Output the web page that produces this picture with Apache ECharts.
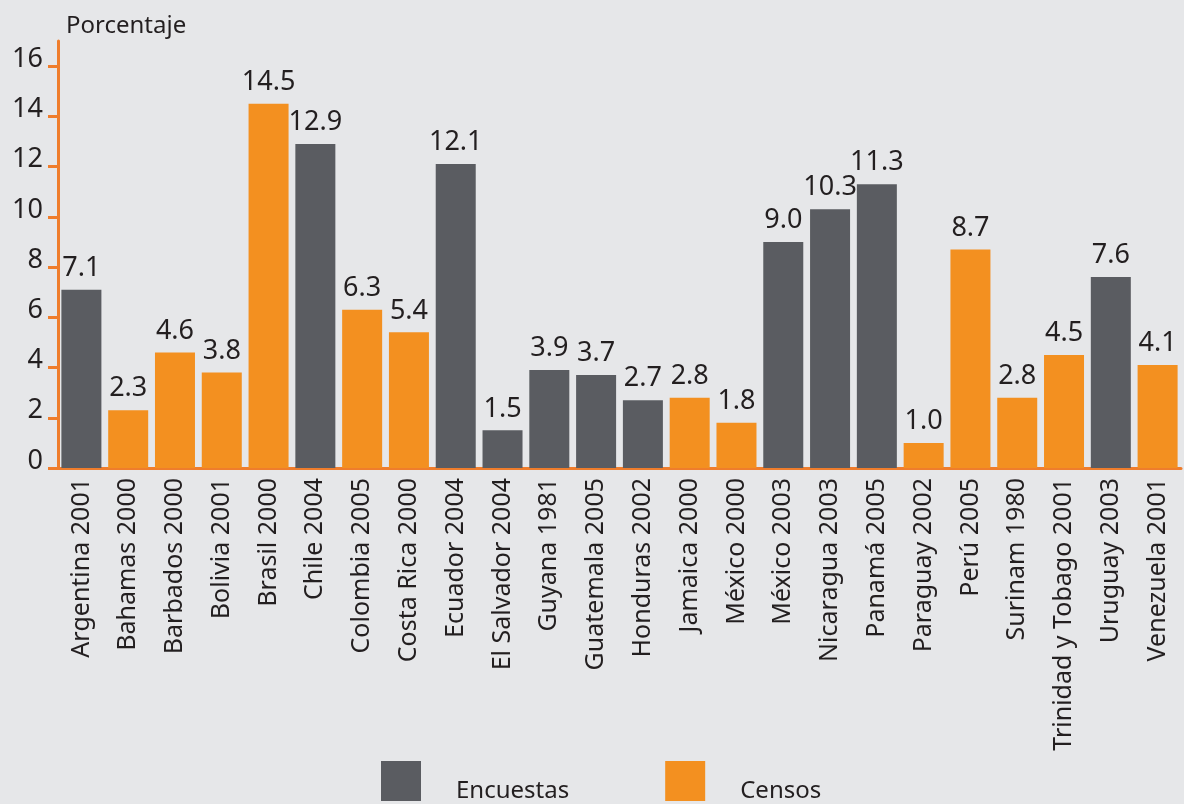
<!DOCTYPE html>
<html><head><meta charset="utf-8">
<script src="https://cdn.jsdelivr.net/npm/echarts@6/dist/echarts.min.js"></script>
<style>html,body{margin:0;padding:0;background:#e6e7e9;}#c{width:1184px;height:804px;}</style>
</head><body><div id="c"></div>
<script>
const categories = ["Argentina 2001","Bahamas 2000","Barbados 2000","Bolivia 2001","Brasil 2000","Chile 2004","Colombia 2005","Costa Rica 2000","Ecuador 2004","El Salvador 2004","Guyana 1981","Guatemala 2005","Honduras 2002","Jamaica 2000","México 2000","México 2003","Nicaragua 2003","Panamá 2005","Paraguay 2002","Perú 2005","Surinam 1980","Trinidad y Tobago 2001","Uruguay 2003","Venezuela 2001"];
const encuestas = [7.1,null,null,null,null,12.9,null,null,12.1,1.5,3.9,3.7,2.7,null,null,9.0,10.3,11.3,null,null,null,null,7.6,null];
const censos = [null,2.3,4.6,3.8,14.5,null,6.3,5.4,null,null,null,null,null,2.8,1.8,null,null,null,1.0,8.7,2.8,4.5,null,4.1];
const yTicks = [0,2,4,6,8,10,12,14,16];

const FONT = "Noto Sans";
const TXT = "#231f20";
const AX = "#ef7d2c";
const chart = echarts.init(document.getElementById('c'));
const lbl = {show:true, position:'top', distance:8, color:TXT, fontSize:27, fontFamily:FONT,
  formatter: p => (p.value==null?'':Number(p.value).toFixed(1))};
chart.setOption({
  backgroundColor:'#e6e7e9',
  animation:false,
  textStyle:{fontFamily:FONT},
  grid:{left:58, right:3, top:41, bottom:336, containLabel:false},
  legend:{left:376, top:756, itemWidth:40, itemHeight:40, itemGap:96, icon:'rect',
    formatter:'{t|{name}}',
    textStyle:{fontSize:24, color:TXT, fontFamily:FONT, padding:[0,0,0,30],
      rich:{t:{fontSize:24, color:TXT, fontFamily:FONT, lineHeight:44, verticalAlign:'bottom'}}},
    data:['Encuestas','Censos']},
  xAxis:{type:'category', data:categories,
    axisLine:{show:true, lineStyle:{color:AX, width:3}},
    axisTick:{show:false},
    axisLabel:{rotate:90, fontSize:25, color:TXT, margin:10, interval:0, fontFamily:FONT}},
  yAxis:{type:'value', min:0, max:17, interval:1,
    name:'Porcentaje', nameLocation:'end', nameGap:3,
    nameTextStyle:{fontSize:24, color:TXT, align:'left', padding:[0,0,0,8], fontFamily:FONT},
    splitLine:{show:false},
    axisLine:{show:true, lineStyle:{color:AX, width:3}},
    axisTick:{show:true, length:10, lineStyle:{color:AX, width:3}, customValues:yTicks},
    axisLabel:{fontSize:27, color:TXT, margin:15, fontFamily:FONT, customValues:yTicks, verticalAlign:'bottom', lineHeight:14}},
  series:[
    {name:'Encuestas', type:'bar', data:encuestas, barWidth:40, barGap:'-100%', itemStyle:{color:'#5a5c61'}, label:lbl},
    {name:'Censos', type:'bar', data:censos, barWidth:40, itemStyle:{color:'#f39020'}, label:lbl}
  ]
});
</script></body></html>
